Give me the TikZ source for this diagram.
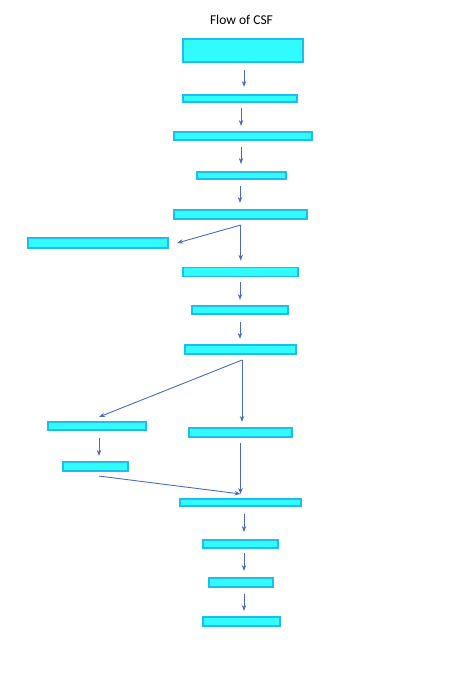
\documentclass[tikz,border=0pt]{standalone}
\usepackage{fontspec}
\setmainfont{Carlito}
\usetikzlibrary{calc}
\usetikzlibrary{arrows.meta}
\definecolor{csffill}{HTML}{30FCFF}
\definecolor{csfline}{HTML}{20BCEE}
\definecolor{csfarrow}{HTML}{4A6CC0}
\tikzset{
  csfbox/.style={draw=csfline,fill=csffill,line width=1.6pt,inner sep=0pt},
  flow/.style={draw=csfarrow,line width=0.9pt,-{Stealth[length=6pt,width=4.5pt]}}
}

\begin{document}
\begin{tikzpicture}[x=1pt,y=-1pt]
\useasboundingbox (0,0) rectangle (474,682);

\node[font=\fontsize{13.5}{16}\selectfont] (title) at (241.5,20) {Flow of CSF};

% main column
\node[csfbox,minimum width=120pt,minimum height=23.5pt] (b1) at (243.2,50.5) {};
\node[csfbox,minimum width=114.5pt,minimum height=7.5pt] (b2) at (240,98.5) {};
\node[csfbox,minimum width=138.5pt,minimum height=8.5pt] (b3) at (243,136) {};
\node[csfbox,minimum width=89.5pt,minimum height=7.5pt] (b4) at (241.5,175.5) {};
\node[csfbox,minimum width=133.5pt,minimum height=9.5pt] (b5) at (240.5,214.5) {};
\node[csfbox,minimum width=140.5pt,minimum height=9.5pt] (side) at (98,243) {};
\node[csfbox,minimum width=115pt,minimum height=9pt] (b6) at (240.7,272) {};
\node[csfbox,minimum width=96.5pt,minimum height=8.5pt] (b7) at (240,310) {};
\node[csfbox,minimum width=111.5pt,minimum height=9.5pt] (b8) at (240.5,349.5) {};

% two branches
\node[csfbox,minimum width=98.5pt,minimum height=8.5pt] (l1) at (97,426) {};
\node[csfbox,minimum width=103.5pt,minimum height=9.5pt] (r1) at (240.5,432.5) {};
\node[csfbox,minimum width=65.5pt,minimum height=9.5pt] (l2) at (95.5,466.5) {};

% lower column
\node[csfbox,minimum width=121.5pt,minimum height=7.5pt] (b9) at (240.5,502.5) {};
\node[csfbox,minimum width=75.5pt,minimum height=8.5pt] (b10) at (240.5,544) {};
\node[csfbox,minimum width=64.5pt,minimum height=9.5pt] (b11) at (241,582.5) {};
\node[csfbox,minimum width=77.5pt,minimum height=9.5pt] (b12) at (241.5,621.5) {};

\coordinate (fork1) at ($(b5.south)+(0.2,5)$);
\coordinate (fork2) at ($(b8.south)+(1.5,5)$);
\coordinate (join) at ($(b9.north)+(0,-4)$);

\draw[flow] ([xshift=0.8pt,yshift=-7pt]b1.south) -- ([xshift=4pt,yshift=7pt]b2.north);
\draw[flow] ([xshift=1pt,yshift=-5pt]b2.south) -- ([xshift=-2pt,yshift=5pt]b3.north);
\draw[flow] ([xshift=-2pt,yshift=-6pt]b3.south) -- ([xshift=-0.5pt,yshift=7pt]b4.north);
\draw[flow] ([xshift=-1.5pt,yshift=-6pt]b4.south) -- ([xshift=-0.5pt,yshift=6pt]b5.north);

\draw[flow] (fork1) -- ([xshift=8pt]side.east);
\draw[flow] (fork1) -- ([yshift=6pt]b6.north -| fork1);

\draw[flow] ([xshift=-0.7pt,yshift=-4.5pt]b6.south) -- ([yshift=5pt]b7.north);
\draw[flow] ([yshift=-7pt]b7.south) -- ([xshift=-0.5pt,yshift=5pt]b8.north);

\draw[flow] (fork2) -- ([xshift=2pt,yshift=4pt]l1.north);
\draw[flow] (fork2) -- ([yshift=5pt]r1.north -| fork2);

\draw[flow] ([xshift=2pt,yshift=-7pt]l1.south) -- ([xshift=3.5pt,yshift=5pt]l2.north);
\draw[flow] ([yshift=-5pt]r1.south) -- (join);
\draw[flow] ([xshift=3.5pt,yshift=-4pt]l2.south) -- (join);

\draw[flow] ([xshift=3.5pt,yshift=-7pt]b9.south) -- ([xshift=3.5pt,yshift=7pt]b10.north);
\draw[flow] ([xshift=3.5pt,yshift=-4pt]b10.south) -- ([xshift=3pt,yshift=6pt]b11.north);
\draw[flow] ([xshift=3pt,yshift=-6pt]b11.south) -- ([xshift=2.5pt,yshift=5pt]b12.north);

\end{tikzpicture}
\end{document}
